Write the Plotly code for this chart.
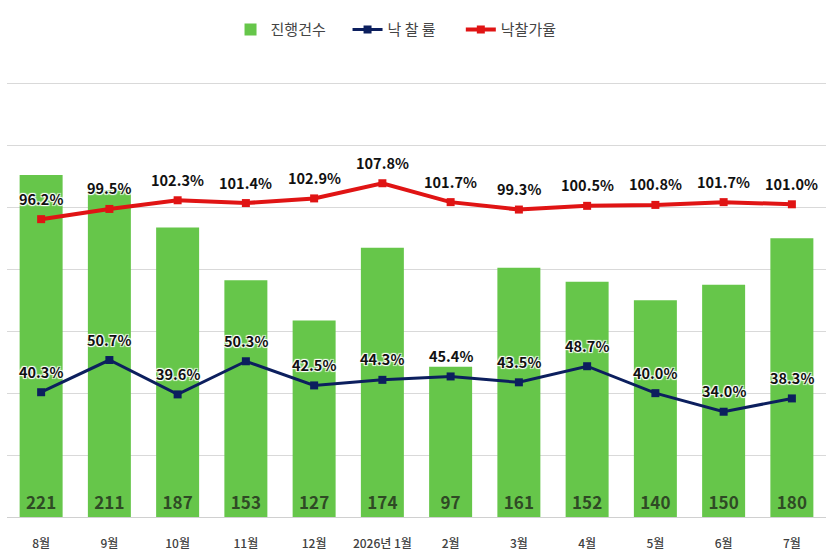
import plotly.graph_objects as go

months = ["8월", "9월", "10월", "11월", "12월", "2026년 1월", "2월", "3월", "4월", "5월", "6월", "7월"]
cases = [221, 211, 187, 153, 127, 174, 97, 161, 152, 140, 150, 180]
sale_rate = [40.3, 50.7, 39.6, 50.3, 42.5, 44.3, 45.4, 43.5, 48.7, 40.0, 34.0, 38.3]
price_rate = [96.2, 99.5, 102.3, 101.4, 102.9, 107.8, 101.7, 99.3, 100.5, 100.8, 101.7, 101.0]

FONT = "Noto Sans CJK KR"
GREEN = "#66c64a"
NAVY = "#0c1f5e"
RED = "#e01414"
halo = "-1px -1px 1px white, 1px -1px 1px white, -1px 1px 1px white, 1px 1px 1px white"

fig = go.Figure()

fig.add_trace(go.Bar(
    x=months, y=cases, name="진행건수     ",
    marker=dict(color=GREEN, line=dict(width=0)),
    width=0.63,
    text=[str(v) for v in cases],
    textposition="inside", insidetextanchor="start",
    textfont=dict(family=FONT, size=17, color="#2f4a25", weight="bold"),
    textangle=0,
))

fig.add_trace(go.Scatter(
    x=months, y=sale_rate, name="낙 찰 률      ", yaxis="y2",
    mode="lines+markers",
    line=dict(color=NAVY, width=3),
    marker=dict(symbol="square", size=8, color=NAVY),
))

fig.add_trace(go.Scatter(
    x=months, y=price_rate, name="낙찰가율", yaxis="y2",
    mode="lines+markers",
    line=dict(color=RED, width=4),
    marker=dict(symbol="square", size=8, color=RED),
))

# percentage labels above the line points
for series in (sale_rate, price_rate):
    for m, v in zip(months, series):
        fig.add_annotation(
            x=m, y=v, xref="x", yref="y2", yshift=21,
            text=f"{v:.1f}%", showarrow=False,
            font=dict(family=FONT, size=14.5, color="#111111", weight="bold", shadow=halo),
        )

fig.update_layout(
    width=829, height=555,
    margin=dict(l=7, r=3, t=82, b=38, autoexpand=False),
    paper_bgcolor="white", plot_bgcolor="white",
    bargap=0.37,
    showlegend=True,
    legend=dict(
        orientation="h", x=0.475, xanchor="center", y=1.12, yanchor="middle",
        font=dict(family=FONT, size=15, color="#444444"),
        traceorder="normal",
    ),
    xaxis=dict(
        range=[-0.5, len(months) - 0.5],
        showgrid=False, showline=False,
        ticks="outside", ticklen=16, tickcolor="white",
        tickfont=dict(family=FONT, size=12, color="#404040", weight=500),
    ),
    yaxis=dict(
        range=[0, 281], tickvals=[0, 40, 80, 120, 160, 200, 240, 280], showticklabels=False,
        gridcolor="#d9d9d9", gridwidth=1,
        zeroline=True, zerolinecolor="#d0d0d0", zerolinewidth=1,
    ),
    yaxis2=dict(
        range=[0, 140.5], overlaying="y", side="right",
        showgrid=False, showticklabels=False, zeroline=False,
    ),
)

fig.write_html("out.html", config={"displayModeBar": False},
               post_script="document.body.style.margin='0';")
